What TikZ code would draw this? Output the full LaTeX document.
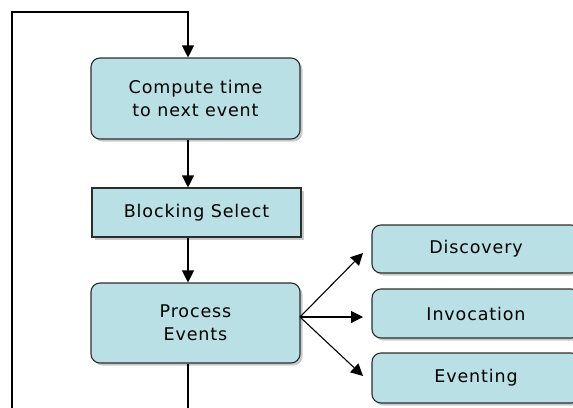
\documentclass[tikz,border=0pt]{standalone}
\usepackage{fontspec}
\setmainfont[LetterSpace=5]{DejaVu Sans}
\usetikzlibrary{arrows.meta,shadows}
\definecolor{boxfill}{RGB}{185,224,228}
\definecolor{boxline}{RGB}{45,45,45}
\tikzset{
  base/.style={draw=boxline, line width=1.1pt, fill=boxfill, inner sep=0pt,
    font=\fontsize{17.5}{23}\selectfont, align=center,
    drop shadow={shadow xshift=2.5pt, shadow yshift=-2.5pt, fill=black!35, opacity=0.6}},
  roundbox/.style={base, rounded corners=9pt},
  squarebox/.style={base},
  conn/.style={draw=black, line width=1.1pt},
  arr/.style={conn, -{Triangle[length=12pt,width=12pt]}}
}
\begin{document}
\begin{tikzpicture}[x=1pt,y=-1pt]
\useasboundingbox (0,0) rectangle (573,407);
\clip (0,0) rectangle (573,407);
\fill[white] (0,0) rectangle (573,407);
\node[roundbox, minimum width=209pt, minimum height=81pt] (c1) at (195.5,98.5) {Compute time\\to next event};
\node[squarebox, minimum width=209pt, minimum height=49pt] (c2) at (196.5,212.5) {Blocking Select};
\node[roundbox, minimum width=209pt, minimum height=80pt] (c3) at (195.5,323) {Process\\Events};
\node[roundbox, minimum width=208pt, minimum height=48pt] (d) at (476,249) {Discovery};
\node[roundbox, minimum width=208pt, minimum height=49pt] (i) at (476,313.5) {Invocation};
\node[roundbox, minimum width=208pt, minimum height=50pt] (e) at (476,378) {Eventing};
\coordinate (xl) at (188,0);
\coordinate (tl) at (12,12);
\coordinate (tr) at (188,12);
\coordinate (bl) at (12,415);
\coordinate (br) at (188,415);
\coordinate (fan) at (300,317);
\draw[conn] (c3.south -| xl) -- (br);
\draw[arr] (bl) -- (tl) -- (tr) -- (c1.north -| xl);
\draw[arr] (c1.south -| xl) -- (c2.north -| xl);
\draw[arr] (c2.south -| xl) -- (c3.north -| xl);
\draw[arr] (fan) -- (363,253);
\draw[arr] (fan) -- (363,317);
\draw[arr] (fan) -- (363,376);
\end{tikzpicture}
\end{document}
